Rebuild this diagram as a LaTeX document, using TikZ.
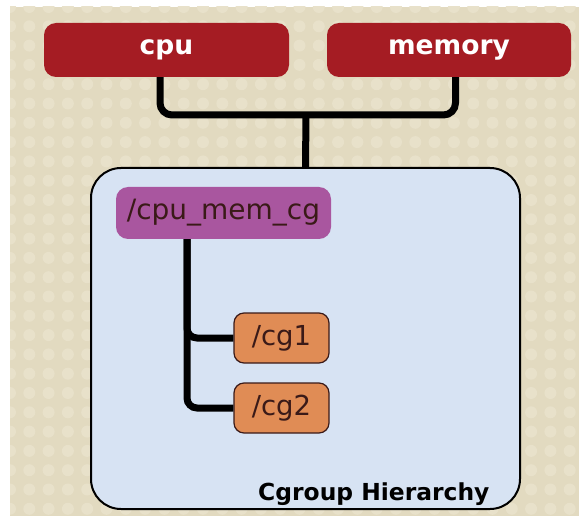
\documentclass[tikz,border=0pt]{standalone}
\usepackage{fontspec}
\setmainfont{DejaVu Sans}
\usepackage{tikz}
\usetikzlibrary{positioning,calc}

\definecolor{bgtan}{HTML}{E2DAC0}
\definecolor{bgdot}{HTML}{E8E1CA}
\definecolor{ctrlred}{HTML}{A51C23}
\definecolor{hierblue}{HTML}{D7E3F3}
\definecolor{rootpurple}{HTML}{A9569F}
\definecolor{cgorange}{HTML}{E08C55}
\definecolor{cgtext}{HTML}{3A1A18}

\tikzset{
  ctrl/.style={fill=ctrlred, rounded corners=12pt, minimum width=245pt, minimum height=54pt,
    text=white, font=\fontsize{26.5}{31}\selectfont\bfseries},
  hierbox/.style={draw=black, line width=2pt, fill=hierblue, rounded corners=30pt,
    minimum width=429pt, minimum height=341pt},
  rootbox/.style={fill=rootpurple, rounded corners=12pt, minimum width=215pt, minimum height=52pt,
    text=cgtext, font=\fontsize{28}{33}\selectfont},
  cgbox/.style={draw=cgtext, line width=1.2pt, fill=cgorange, rounded corners=10pt,
    minimum width=95pt, minimum height=50pt, text=cgtext, font=\fontsize{27.5}{32}\selectfont},
  wire/.style={line width=7pt, draw=black}
}

\begin{document}
\begin{tikzpicture}[x=1pt,y=-1pt]
            \useasboundingbox (0,0) rectangle (579,516);
            % dotted tan backdrop
            \fill[bgtan] (10,7) rectangle (579,516);
            \begin{scope}
              \clip (10,7) rectangle (579,516);
              \foreach \i in {0,...,30} {
                \foreach \j in {0,...,27} {
                  \fill[bgdot] (10+19.3*\i,7+19.3*\j) circle (6);
                }
              }
            \end{scope}
            % controllers
            \node[ctrl] (cpu) at (166.5,50) {cpu};
            \node[ctrl, minimum width=244pt] (memory) at (449,50) {memory};
            % hierarchy
            \node[hierbox] (hier) at (305.5,338.5) {};
            \coordinate (join) at (306,115);
            \draw[wire, rounded corners=12pt] ([xshift=-6.5pt]cpu.south) |- (join) -| ([xshift=6.5pt]memory.south);
            \draw[wire] (join) -- (hier.north);
            \node[rootbox] (cgroot) at (223.5,213) {/cpu\_mem\_cg};
            \node[cgbox] (cg1) at (281.5,338) {/cg1};
            \node[cgbox] (cg2) at (281.5,408) {/cg2};
            \draw[wire, rounded corners=10pt] ([xshift=-36.5pt]cgroot.south) |- (cg1.west);
            \draw[wire, rounded corners=10pt] ([xshift=-36.5pt]cgroot.south) |- (cg2.west);
            \node[anchor=base east, font=\fontsize{23.4}{28}\selectfont\bfseries] (hiername) at (493,500) {Cgroup Hierarchy};
        \end{tikzpicture}
\end{document}
